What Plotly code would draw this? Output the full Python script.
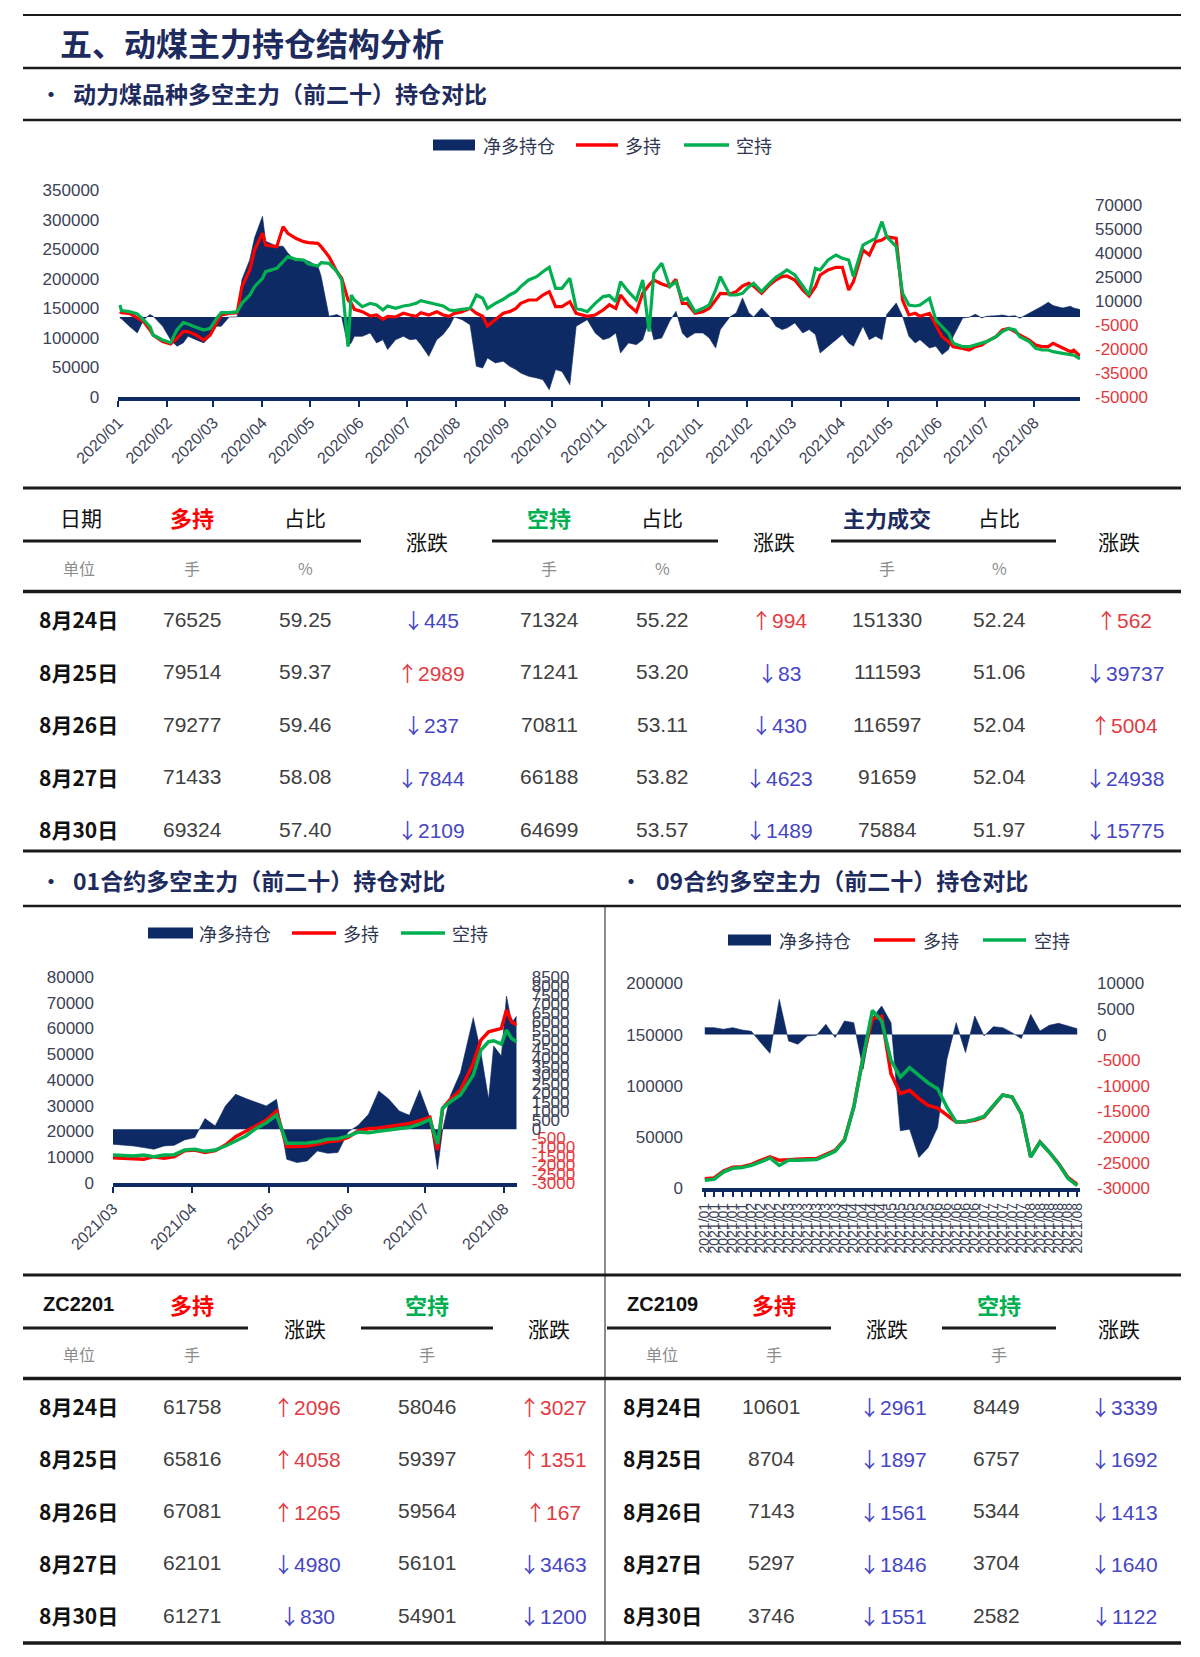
import plotly.graph_objects as go

# ======================= DATA =======================
# Chart 1: 动力煤品种多空主力（前二十）持仓
c1_dates = [
    "2020-01-02", "2020-01-03", "2020-01-08", "2020-01-13", "2020-01-17", "2020-01-21", "2020-01-23", "2020-01-29",
    "2020-02-03", "2020-02-07", "2020-02-11", "2020-02-14", "2020-02-19", "2020-02-24", "2020-02-28",
    "2020-03-03", "2020-03-06", "2020-03-11", "2020-03-16", "2020-03-19", "2020-03-24", "2020-03-27",
    "2020-04-01", "2020-04-03", "2020-04-10", "2020-04-14", "2020-04-17", "2020-04-22", "2020-04-27", "2020-04-30",
    "2020-05-06", "2020-05-08", "2020-05-13", "2020-05-18", "2020-05-21", "2020-05-25", "2020-05-27", "2020-05-29",
    "2020-06-03", "2020-06-08", "2020-06-12", "2020-06-16", "2020-06-19", "2020-06-24", "2020-06-29",
    "2020-07-03", "2020-07-07", "2020-07-10", "2020-07-15", "2020-07-20", "2020-07-24", "2020-07-28", "2020-07-31",
    "2020-08-05", "2020-08-10", "2020-08-14", "2020-08-18", "2020-08-21", "2020-08-26", "2020-08-31",
    "2020-09-04", "2020-09-08", "2020-09-11", "2020-09-16", "2020-09-21", "2020-09-25", "2020-09-29",
    "2020-10-03", "2020-10-07", "2020-10-12", "2020-10-16", "2020-10-20", "2020-10-23", "2020-10-28",
    "2020-11-02", "2020-11-06", "2020-11-10", "2020-11-13", "2020-11-18", "2020-11-23", "2020-11-27",
    "2020-12-01", "2020-12-04", "2020-12-09", "2020-12-14", "2020-12-18", "2020-12-22", "2020-12-25", "2020-12-30",
    "2021-01-04", "2021-01-08", "2021-01-12", "2021-01-15", "2021-01-21", "2021-01-25", "2021-01-29",
    "2021-02-02", "2021-02-05", "2021-02-10", "2021-02-15", "2021-02-19", "2021-02-23", "2021-02-26",
    "2021-03-03", "2021-03-08", "2021-03-12", "2021-03-16", "2021-03-19", "2021-03-24", "2021-03-29",
    "2021-04-02", "2021-04-06", "2021-04-09", "2021-04-15", "2021-04-19", "2021-04-23", "2021-04-27", "2021-04-30",
    "2021-05-06", "2021-05-10", "2021-05-14", "2021-05-18", "2021-05-21", "2021-05-27", "2021-05-31",
    "2021-06-04", "2021-06-08", "2021-06-11", "2021-06-17", "2021-06-21", "2021-06-25", "2021-06-29",
    "2021-07-02", "2021-07-08", "2021-07-12", "2021-07-16", "2021-07-20", "2021-07-23", "2021-07-29",
    "2021-08-02", "2021-08-06", "2021-08-10", "2021-08-13", "2021-08-19", "2021-08-24", "2021-08-26", "2021-08-30",
]
c1_long = [
    144300, 142600, 141500, 133000, 127400, 113300, 104800, 93600,
    89600, 99200, 110500, 110500, 104800, 96400, 104800,
    124600, 138700, 141500, 142600, 186600, 214800, 248600,
    276800, 257000, 254200, 288100, 276800, 268300, 262700, 261000,
    259900, 254200, 237300, 211900, 200700, 164000, 158400, 148300,
    144300, 137000, 138700, 131300, 136400, 135300, 141500,
    138700, 136400, 142600, 138700, 144300, 138700, 136400, 141500,
    144300, 149900, 141500, 136400, 120100, 130200, 141500,
    144300, 149900, 158400, 164000, 164000, 172500, 178100,
    152800, 152800, 161200, 141500, 138700, 136400, 138700,
    147100, 156000, 149900, 172500, 155600, 144300, 175300,
    189400, 197900, 191100, 186600, 199000, 158400, 158400, 141500,
    144300, 149900, 164000, 175300, 174200, 178100, 187700,
    192200, 187700, 175300, 189400, 197900, 203500, 204600,
    197900, 180900, 170800, 186600, 206300, 214800, 219300,
    219300, 180900, 195000, 248600, 240100, 262700, 265500, 271100,
    268300, 164000, 138700, 141500, 136400, 141500, 121800,
    102000, 93600, 85100, 82300, 79500, 85100, 87900,
    93600, 102000, 113300, 116100, 110500, 104800, 96400,
    87900, 85100, 85100, 90800, 82300, 76525, 79277, 69324,
]
c1_short = [
    155600, 146000, 144300, 140400, 130200, 118900, 104800, 96400,
    91900, 113300, 125700, 123400, 117800, 113300, 116100,
    133000, 142600, 142600, 144300, 158400, 172500, 186600,
    200700, 211900, 217600, 228900, 237300, 232800, 231700, 224900,
    221500, 227200, 226000, 211900, 197900, 85100, 172500, 164000,
    152800, 158400, 155600, 147100, 153900, 149900, 153900,
    155600, 158400, 162900, 159500, 155600, 153900, 147100, 146000,
    148300, 149900, 172500, 166900, 149900, 158400, 165200,
    172500, 178100, 186600, 197900, 203500, 211900, 219300,
    183800, 183800, 200700, 149900, 147100, 144300, 158400,
    169700, 171500, 161200, 195000, 178100, 164000, 197900,
    110500, 209100, 226000, 186600, 195000, 164000, 166900, 144300,
    149900, 155600, 180900, 203500, 172500, 172500, 175300,
    186600, 192200, 178100, 192200, 202400, 209100, 214800,
    206300, 186600, 172500, 217600, 214800, 231700, 240100,
    234500, 231700, 203500, 257000, 262700, 268300, 296500, 271100,
    254200, 175300, 155600, 153900, 155600, 166900, 130200,
    118900, 107700, 90800, 85100, 85100, 87900, 90800,
    93600, 102000, 110500, 116100, 113300, 102000, 93600,
    82300, 79500, 79500, 76700, 73800, 71324, 70811, 64699,
]
c1_net = [
    -600, -1200, -5800, -10000, -1700, 1500, 400, -5800,
    -14200, -18300, -16200, -12100, -14200, -16200, -12100,
    -5800, -5800, 0, 0, 23300, 35800, 49400,
    62900, 47300, 44200, 44200, 40000, 34800, 35800, 34800,
    31700, 25400, 400, 1500, 0, -18300, -16200, -12100,
    -12100, -10000, -16200, -14200, -20400, -14200, -12100,
    -14200, -13700, -17300, -24600, -14200, -11000, -5800, 0,
    -1700, -4800, -30800, -31900, -25600, -28700, -27700,
    -30800, -32900, -35000, -37100, -38100, -39200, -45400,
    -32900, -34000, -42300, -5800, -3700, -1700, -10000,
    -14200, -13000, -10000, -22500, -16200, -17300, -14200,
    -2000, -14200, -13100, -2700, 3500, -10000, -13100, -10000,
    -10000, -13100, -19400, -7900, 0, 2500, 11900,
    2500, 0, 5600, 400, -5800, -7900, -6900,
    -3700, -10000, -7900, -11000, -22500, -18300, -14200,
    -11000, -16200, -18300, -5800, -14200, -12100, -14200, 1500,
    8700, 400, -12100, -16200, -14200, -19400, -18300,
    -23500, -20400, -12100, -600, -200, 1700, -600,
    400, 800, 1200, 400, 800, -800, 2500,
    4200, 6700, 9200, 7100, 5600, 6700, 5600, 4600,
]
c1_left_ticks = [0, 50000, 100000, 150000, 200000, 250000, 300000, 350000]
c1_right_ticks = [-50000, -35000, -20000, -5000, 10000, 25000, 40000, 55000, 70000]

# Chart 2: 01合约 (ZC2201)
c2_dates = [
    "2021-03-01", "2021-03-05", "2021-03-09", "2021-03-13", "2021-03-17", "2021-03-21", "2021-03-25", "2021-03-29",
    "2021-04-02", "2021-04-06", "2021-04-10", "2021-04-14", "2021-04-18", "2021-04-22", "2021-04-26", "2021-04-30",
    "2021-05-04", "2021-05-08", "2021-05-12", "2021-05-16", "2021-05-20", "2021-05-24", "2021-05-28",
    "2021-06-01", "2021-06-05", "2021-06-09", "2021-06-13", "2021-06-17", "2021-06-21", "2021-06-25", "2021-06-29",
    "2021-07-03", "2021-07-06", "2021-07-08", "2021-07-11", "2021-07-15", "2021-07-20", "2021-07-23",
    "2021-07-26", "2021-07-28", "2021-07-31", "2021-08-02", "2021-08-04", "2021-08-06",
]
c2_long = [
    9830, 9580, 9190, 9190, 10220, 9580, 10220, 12550,
    12810, 11900, 12550, 14750, 17990, 20320, 22260, 24460,
    27950, 14100, 14100, 14360, 15140, 16050, 16430,
    17730, 20320, 21090, 21350, 21870, 22520, 23160, 24200,
    25490, 12810, 28990, 32480, 36100, 46450, 55510,
    58750, 59390, 60040, 67160, 62630, 61340,
]
c2_short = [
    10870, 10740, 10480, 10870, 10220, 10870, 11000, 12810,
    13070, 12290, 12810, 14360, 16430, 18250, 21220, 23420,
    26400, 15400, 15400, 15530, 16050, 16950, 17210,
    18250, 19800, 19540, 20060, 20570, 21220, 21610, 22900,
    24720, 15140, 28990, 31570, 34160, 41930, 51630,
    54870, 55250, 53960, 59390, 56160, 54870,
]
c2_net = [
    -837, -874, -930, -1023, -1116, -930, -893, -595,
    -465, 595, 186, 1302, 1953, 1711, 1488, 1302,
    1674, -1674, -1860, -1767, -1209, -1339, -1302,
    -149, 223, 837, 2139, 1674, 1023, 781, 2195,
    651, -2232, -37, 1860, 3162, 6231, 4278,
    1674, 4650, 4092, 7440, 5952, 6324,
]
c2_left_ticks = [0, 10000, 20000, 30000, 40000, 50000, 60000, 70000, 80000]
c2_right_ticks = [-3000, -2500, -2000, -1500, -1000, -500, 0, 500, 1000, 1500, 2000, 2500, 3000,
                  3500, 4000, 4500, 5000, 5500, 6000, 6500, 7000, 7500, 8000, 8500]

# Chart 3: 09合约 (ZC2109)
c3_dates = [
    "2021-01-04", "2021-01-08", "2021-01-14", "2021-01-20", "2021-01-26",
    "2021-02-01", "2021-02-05", "2021-02-18", "2021-02-24",
    "2021-03-02", "2021-03-08", "2021-03-12", "2021-03-18", "2021-03-24", "2021-03-30",
    "2021-04-06", "2021-04-12", "2021-04-16", "2021-04-22", "2021-04-28",
    "2021-05-07", "2021-05-13", "2021-05-19", "2021-05-25", "2021-05-31",
    "2021-06-04", "2021-06-10", "2021-06-17", "2021-06-23", "2021-06-29",
    "2021-07-05", "2021-07-09", "2021-07-15", "2021-07-21", "2021-07-27",
    "2021-08-02", "2021-08-06", "2021-08-12", "2021-08-18", "2021-08-24", "2021-08-30",
]
c3_long = [
    9400, 10100, 16900, 20500, 21100,
    23400, 27300, 30600, 27300,
    28000, 28300, 28900, 28900, 33200, 37100,
    47500, 79300, 128100, 165500, 167800,
    111900, 92400, 95600, 87500, 81000,
    78400, 71200, 64700, 65000, 66300,
    69600, 81000, 91100, 89100, 72800,
    30600, 45200, 35400, 24100, 10600, 3746,
]
c3_short = [
    7800, 8800, 15900, 19500, 20200,
    22400, 25700, 29600, 22400,
    27300, 27300, 28000, 28000, 31900, 36100,
    46800, 79300, 127500, 173700, 163300,
    124900, 108600, 117700, 110200, 102800,
    97200, 79300, 64700, 65000, 67300,
    70200, 81000, 91100, 89100, 72800,
    30400, 45000, 35200, 23800, 9800, 2582,
]
c3_net = [
    1365, 1365, 1040, 1365, 910,
    650, -1560, -3640, 6890,
    -1235, -1885, -260, -130, 2015, -585,
    2665, 2340, -6760, 3315, 5590,
    2340, -18785, -18460, -23985, -22035,
    -18135, -4810, 2340, -3510, 3640,
    -260, 1560, 1365, 390, -780,
    3965, 715, 1820, 2210, 1690, 1164,
]
c3_left_ticks = [0, 50000, 100000, 150000, 200000]
c3_right_ticks = [-30000, -25000, -20000, -15000, -10000, -5000, 0, 5000, 10000]

# Table 1
t1_dates = ["8月24日", "8月25日", "8月26日", "8月27日", "8月30日"]
t1_long = [76525, 79514, 79277, 71433, 69324]
t1_long_pct = [59.25, 59.37, 59.46, 58.08, 57.40]
t1_long_chg = [-445, 2989, -237, -7844, -2109]
t1_short = [71324, 71241, 70811, 66188, 64699]
t1_short_pct = [55.22, 53.20, 53.11, 53.82, 53.57]
t1_short_chg = [994, -83, -430, -4623, -1489]
t1_vol = [151330, 111593, 116597, 91659, 75884]
t1_vol_pct = [52.24, 51.06, 52.04, 52.04, 51.97]
t1_vol_chg = [562, -39737, 5004, -24938, -15775]

# Table 2
t2_dates = ["8月24日", "8月25日", "8月26日", "8月27日", "8月30日"]
zc2201_long = [61758, 65816, 67081, 62101, 61271]
zc2201_long_chg = [2096, 4058, 1265, -4980, -830]
zc2201_short = [58046, 59397, 59564, 56101, 54901]
zc2201_short_chg = [3027, 1351, 167, -3463, -1200]
zc2109_long = [10601, 8704, 7143, 5297, 3746]
zc2109_long_chg = [-2961, -1897, -1561, -1846, -1551]
zc2109_short = [8449, 6757, 5344, 3704, 2582]
zc2109_short_chg = [-3339, -1692, -1413, -1640, -1122]

# ======================= STYLE =======================
W, H = 1200, 1657


def PX(v):
    return v / W


def PY(v):
    return 1 - v / H


NAVY = "#0E2A64"
RED = "#FF0000"
GREEN = "#00B050"
TITLE = "#1D2B5E"
AXC = "#3B4256"
NEGC = "#E5383B"
UPC = "#E23B43"
DNC = "#4646C4"
NUMC = "#404040"
UNITC = "#8C8C8C"
LINEC = "#1A1A1A"
CJK = "Noto Sans CJK SC"
LAT = "Liberation Sans, Arial, Noto Sans CJK SC"

fig = go.Figure()


def add_chart(xa, ya_net, ya_line, dates, net, long_, short_, lw):
    fig.add_trace(go.Scatter(x=dates, y=net, xaxis=xa, yaxis=ya_net, mode="lines",
                             line=dict(color=NAVY, width=0.6), fill="tozeroy", fillcolor=NAVY,
                             name="净多持仓", showlegend=False, hoverinfo="skip"))
    fig.add_trace(go.Scatter(x=dates, y=long_, xaxis=xa, yaxis=ya_line, mode="lines",
                             line=dict(color=RED, width=lw), name="多持", showlegend=False))
    fig.add_trace(go.Scatter(x=dates, y=short_, xaxis=xa, yaxis=ya_line, mode="lines",
                             line=dict(color=GREEN, width=lw), name="空持", showlegend=False))


add_chart("x", "y", "y2", c1_dates, c1_net, c1_long, c1_short, 3.2)
add_chart("x2", "y3", "y4", c2_dates, c2_net, c2_long, c2_short, 3.5)
add_chart("x3", "y5", "y6", c3_dates, c3_net, c3_long, c3_short, 3.5)


def colored(vals):
    return [f'<span style="color:{NEGC}">{v}</span>' if v < 0 else str(v) for v in vals]


common_x = dict(showgrid=False, zeroline=False, showline=True, linecolor=NAVY, linewidth=4,
                ticks="outside", ticklen=6, tickwidth=2, tickcolor=NAVY, automargin=False,
                tickfont=dict(family=LAT, size=16, color=AXC))
common_y = dict(showgrid=False, zeroline=False, showline=False, ticks="", automargin=False,
                tickfont=dict(family=LAT, size=17, color=AXC), tickmode="array")

layout_axes = dict(
    xaxis=dict(domain=[PX(118.3), PX(1080)], anchor="y", type="date",
               range=["2020-01-01", "2021-08-30"], tick0="2020-01-01", dtick="M1",
               tickformat="%Y/%m", tickangle=-45, **common_x),
    yaxis=dict(domain=[PY(397), PY(190)], anchor="x", side="right", range=[-50000, 79300],
               tickvals=c1_right_ticks, ticktext=colored(c1_right_ticks), ticklabelstandoff=14, **common_y),
    yaxis2=dict(overlaying="y", anchor="x", side="left", range=[0, 350000],
                tickvals=c1_left_ticks, ticktext=[str(v) for v in c1_left_ticks], ticklabelstandoff=18, **common_y),
    xaxis2=dict(domain=[PX(113), PX(516.7)], anchor="y3", type="date",
                range=["2021-03-01", "2021-08-06"], tick0="2021-03-01", dtick="M1",
                tickformat="%Y/%m", tickangle=-45, **common_x),
    yaxis3=dict(domain=[PY(1183), PY(977)], anchor="x2", side="right", range=[-3000, 8500],
                tickvals=c2_right_ticks, ticktext=colored(c2_right_ticks), ticklabelstandoff=14, **common_y),
    yaxis4=dict(overlaying="y3", anchor="x2", side="left", range=[0, 80000],
                tickvals=c2_left_ticks, ticktext=[str(v) for v in c2_left_ticks], ticklabelstandoff=18, **common_y),
    xaxis3=dict(domain=[PX(702), PX(1080)], anchor="y5", type="category", range=[-0.3, len(c3_dates) - 0.7],
                tickmode="array", tickvals=c3_dates, ticktext=[d[:7].replace("-", "/") for d in c3_dates],
                tickangle=-90, **{**common_x, "tickfont": dict(family=LAT, size=14, color=AXC), "ticklen": 5}),
    yaxis5=dict(domain=[PY(1188.3), PY(983.4)], anchor="x3", side="right", range=[-30000, 10000],
                tickvals=c3_right_ticks, ticktext=colored(c3_right_ticks), ticklabelstandoff=16, **common_y),
    yaxis6=dict(overlaying="y5", anchor="x3", side="left", range=[0, 200000],
                tickvals=c3_left_ticks, ticktext=[str(v) for v in c3_left_ticks], ticklabelstandoff=18, **common_y),
)

shapes = []
annotations = []


def hline(y, x0, x1, w, color=LINEC):
    shapes.append(dict(type="line", xref="paper", yref="paper", x0=PX(x0), x1=PX(x1), y0=PY(y), y1=PY(y),
                       line=dict(color=color, width=w)))


def vline(x, y0, y1, w, color=LINEC):
    shapes.append(dict(type="line", xref="paper", yref="paper", x0=PX(x), x1=PX(x), y0=PY(y0), y1=PY(y1),
                       line=dict(color=color, width=w)))


def txt(x, y, s, size=21, color=NUMC, bold=False, family=LAT, xanchor="center"):
    annotations.append(dict(x=PX(x), y=PY(y), xref="paper", yref="paper", showarrow=False,
                            text=f"<b>{s}</b>" if bold else s, xanchor=xanchor, yanchor="middle",
                            font=dict(size=size, color=color, family=family)))


def legend(y, rect_x, txt_x, red_x, red_tx, green_x, green_tx):
    shapes.append(dict(type="rect", xref="paper", yref="paper", x0=PX(rect_x[0]), x1=PX(rect_x[1]),
                       y0=PY(y + 5.5), y1=PY(y - 5.5), fillcolor=NAVY, line=dict(width=0)))
    shapes.append(dict(type="line", xref="paper", yref="paper", x0=PX(red_x[0]), x1=PX(red_x[1]),
                       y0=PY(y), y1=PY(y), line=dict(color=RED, width=3.5)))
    shapes.append(dict(type="line", xref="paper", yref="paper", x0=PX(green_x[0]), x1=PX(green_x[1]),
                       y0=PY(y), y1=PY(y), line=dict(color=GREEN, width=3.5)))
    txt(txt_x, y, "净多持仓", 18, "#2E3650", family=CJK, xanchor="left")
    txt(red_tx, y, "多持", 18, "#2E3650", family=CJK, xanchor="left")
    txt(green_tx, y, "空持", 18, "#2E3650", family=CJK, xanchor="left")


# Headline & section titles
txt(58, 42, "五、动煤主力持仓结构分析", 32, TITLE, bold=True, family=CJK, xanchor="left")
txt(51, 93, "•", 20, TITLE, bold=True, family=CJK)
txt(71, 93, "动力煤品种多空主力（前二十）持仓对比", 23, TITLE, bold=True, family=CJK, xanchor="left")
txt(51, 880, "•", 20, TITLE, bold=True, family=CJK)
txt(71, 880, "01合约多空主力（前二十）持仓对比", 23, TITLE, bold=True, family=CJK, xanchor="left")
txt(631, 880, "•", 20, TITLE, bold=True, family=CJK)
txt(654, 880, "09合约多空主力（前二十）持仓对比", 23, TITLE, bold=True, family=CJK, xanchor="left")

# Legends
legend(145, (433, 475), 481, (576, 618), 623, (684, 729), 734)
legend(933, (148, 193), 197, (292, 336), 341, (401, 445), 450)
legend(940, (728, 771), 777, (874, 915), 921, (983, 1026), 1032)

# Rules
hline(15, 23, 1181, 2)
hline(68, 23, 1181, 2.5)
hline(120, 23, 1181, 2.5)
hline(488, 23, 1181, 3)
for a, b in [(23, 361), (492, 718), (831, 1056)]:
    hline(541, a, b, 3)
hline(591.5, 23, 1181, 3.5)
hline(851, 23, 1181, 3)
hline(906, 23, 1181, 2.5)
vline(605, 906, 1643, 1)
hline(1275, 23, 1181, 3)
for a, b in [(23, 248), (361, 493), (607, 831), (942, 1056)]:
    hline(1328, a, b, 3)
hline(1378.5, 23, 1181, 3.5)
hline(1643, 23, 1181, 3.5)


def chg_text(v):
    color = UPC if v > 0 else DNC
    arrow = "↑" if v > 0 else "↓"
    return (f'<span style="color:{color};font-family:Noto Sans CJK SC">{arrow}</span>'
            f'<span style="color:{color}">{abs(v)}</span>')


# Table 1 header
txt(81, 516.5, "日期", 21, "#111111", family=CJK)
txt(192, 516.5, "多持", 22, RED, bold=True, family=CJK)
txt(305, 516.5, "占比", 21, "#111111", family=CJK)
txt(549, 516.5, "空持", 22, GREEN, bold=True, family=CJK)
txt(662, 516.5, "占比", 21, "#111111", family=CJK)
txt(887, 516.5, "主力成交", 22, TITLE, bold=True, family=CJK)
txt(999, 516.5, "占比", 21, "#111111", family=CJK)
for x in (427, 774, 1119):
    txt(x, 541, "涨跌", 21, "#111111", family=CJK)
for x, s in [(79, "单位"), (192, "手"), (305, "%"), (549, "手"), (662, "%"), (887, "手"), (999, "%")]:
    txt(x, 568, s, 16, UNITC, family=CJK)

# Table 1 body
for i in range(len(t1_dates)):
    y = 619 + 52.5 * i
    txt(79, y, t1_dates[i], 21, "#111111", bold=True, family=CJK)
    txt(192, y, str(t1_long[i]))
    txt(305, y, f"{t1_long_pct[i]:.2f}")
    txt(431, y, chg_text(t1_long_chg[i]))
    txt(549, y, str(t1_short[i]))
    txt(662, y, f"{t1_short_pct[i]:.2f}")
    txt(779, y, chg_text(t1_short_chg[i]))
    txt(887, y, str(t1_vol[i]))
    txt(999, y, f"{t1_vol_pct[i]:.2f}")
    txt(1124, y, chg_text(t1_vol_chg[i]))

# Table 2 header
txt(79, 1303.5, "ZC2201", 20, "#111111", bold=True, family=LAT)
txt(192, 1303.5, "多持", 22, RED, bold=True, family=CJK)
txt(427, 1303.5, "空持", 22, GREEN, bold=True, family=CJK)
txt(662, 1303.5, "ZC2109", 20, "#111111", bold=True, family=LAT)
txt(774, 1303.5, "多持", 22, RED, bold=True, family=CJK)
txt(999, 1303.5, "空持", 22, GREEN, bold=True, family=CJK)
for x in (305, 549, 887, 1119):
    txt(x, 1328, "涨跌", 21, "#111111", family=CJK)
for x, s in [(79, "单位"), (192, "手"), (427, "手"), (662, "单位"), (774, "手"), (999, "手")]:
    txt(x, 1354, s, 16, UNITC, family=CJK)

# Table 2 body
for i in range(len(t2_dates)):
    y = 1406 + 52.3 * i
    txt(79, y, t2_dates[i], 21, "#111111", bold=True, family=CJK)
    txt(192, y, str(zc2201_long[i]))
    txt(307, y, chg_text(zc2201_long_chg[i]))
    txt(427, y, str(zc2201_short[i]))
    txt(553, y, chg_text(zc2201_short_chg[i]))
    txt(662, y, t2_dates[i], 21, "#111111", bold=True, family=CJK)
    txt(771, y, str(zc2109_long[i]))
    txt(893, y, chg_text(zc2109_long_chg[i]))
    txt(996, y, str(zc2109_short[i]))
    txt(1124, y, chg_text(zc2109_short_chg[i]))

fig.update_layout(
    width=W, height=H, margin=dict(l=0, r=0, t=0, b=0, autoexpand=False),
    paper_bgcolor="white", plot_bgcolor="white",
    showlegend=False, shapes=shapes, annotations=annotations,
    font=dict(family=LAT, color=AXC),
)
fig.update_layout(**layout_axes)

fig.write_html("out.html", config={"displayModeBar": False},
               post_script="document.body.style.margin='0';document.body.style.overflow='hidden';")
